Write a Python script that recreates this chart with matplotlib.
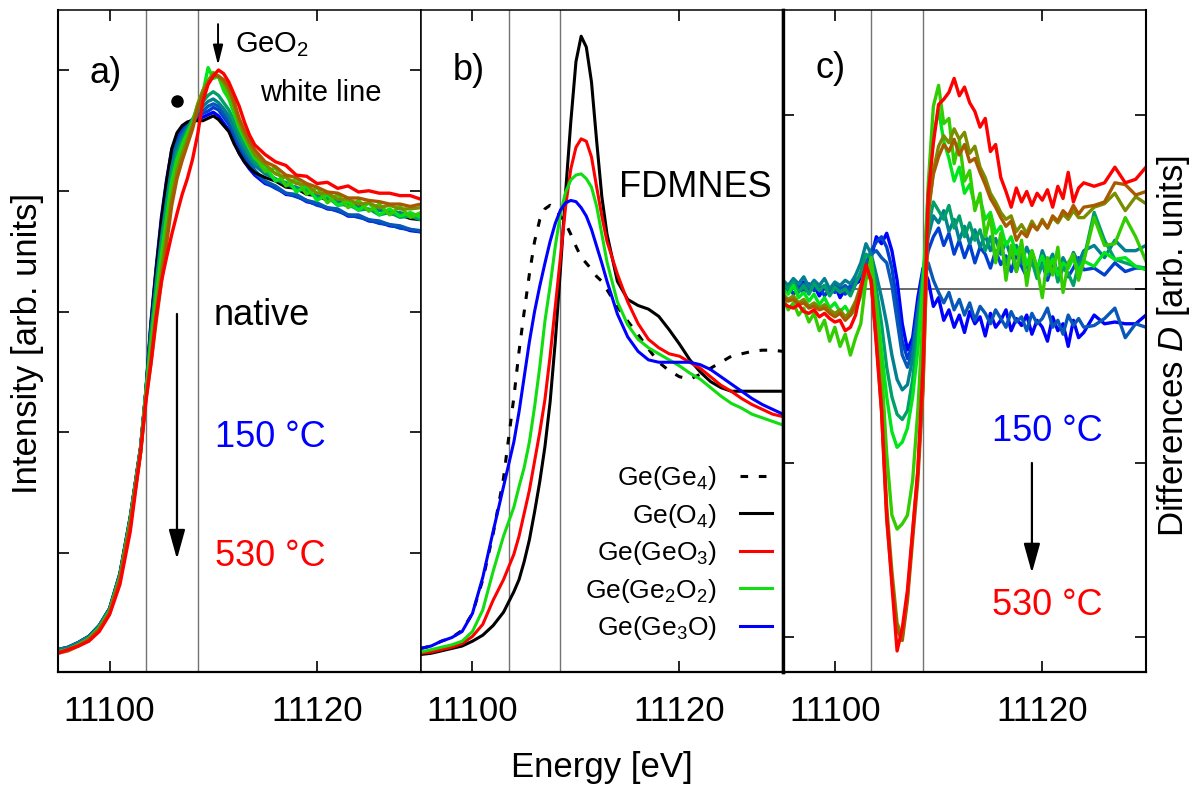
import numpy as np
import matplotlib
matplotlib.use("Agg")
import matplotlib.pyplot as plt
from matplotlib.ticker import MultipleLocator

plt.rcParams['font.family'] = ['Liberation Sans', 'DejaVu Sans']
plt.rcParams['mathtext.fontset'] = 'custom'
plt.rcParams['mathtext.rm'] = 'Liberation Sans'
plt.rcParams['mathtext.it'] = 'Liberation Sans:italic'
plt.rcParams['mathtext.bf'] = 'Liberation Sans:bold'

# ---------------- data ----------------
# a) measured XANES, energy grid (eV)
energy_a = np.concatenate([np.arange(11095, 11104, 1.0),
                           np.arange(11103.5, 11114.01, 0.5),
                           np.arange(11115, 11131, 1.0)])

native_a = [0.20, 0.22, 0.26, 0.31, 0.40, 0.54, 0.83, 1.30, 1.88,
            2.34, 2.90, 3.35, 3.76, 4.08, 4.35, 4.48, 4.54, 4.57, 4.58, 4.58,
            4.58, 4.60, 4.62, 4.59, 4.54, 4.49, 4.39, 4.31, 4.24, 4.19, 4.15,
            4.11, 4.08, 4.03, 4.02, 3.97, 3.96, 3.92, 3.92, 3.87, 3.88, 3.84,
            3.84, 3.81, 3.80, 3.77, 3.76]

# annealing series 150 -> 530 C
spectra_a = [
    [0.20, 0.22, 0.26, 0.31, 0.40, 0.54, 0.83, 1.30, 1.88,
     2.34, 2.92, 3.37, 3.78, 4.09, 4.34, 4.46, 4.52, 4.56, 4.59, 4.60,
     4.61, 4.63, 4.65, 4.62, 4.56, 4.50, 4.41, 4.31, 4.24, 4.18, 4.13,
     4.06, 4.03, 3.97, 3.96, 3.91, 3.89, 3.85, 3.84, 3.79, 3.79, 3.75,
     3.74, 3.71, 3.70, 3.67, 3.66],
    [0.19, 0.21, 0.25, 0.30, 0.39, 0.53, 0.82, 1.29, 1.87,
     2.33, 2.90, 3.34, 3.73, 4.04, 4.30, 4.43, 4.50, 4.54, 4.59, 4.62,
     4.64, 4.66, 4.69, 4.67, 4.61, 4.55, 4.45, 4.35, 4.28, 4.21, 4.15,
     4.07, 4.02, 3.98, 3.95, 3.92, 3.88, 3.86, 3.83, 3.80, 3.78, 3.76,
     3.73, 3.72, 3.69, 3.68, 3.66],
    [0.19, 0.21, 0.25, 0.30, 0.39, 0.52, 0.81, 1.28, 1.87,
     2.33, 2.87, 3.30, 3.68, 3.99, 4.26, 4.39, 4.47, 4.53, 4.58, 4.63,
     4.66, 4.70, 4.72, 4.70, 4.64, 4.58, 4.49, 4.39, 4.31, 4.24, 4.17,
     4.08, 4.04, 3.98, 3.97, 3.92, 3.90, 3.86, 3.85, 3.80, 3.80, 3.76,
     3.75, 3.72, 3.71, 3.68, 3.67],
    [0.20, 0.22, 0.26, 0.31, 0.40, 0.54, 0.83, 1.30, 1.88,
     2.34, 2.84, 3.25, 3.61, 3.92, 4.20, 4.35, 4.45, 4.52, 4.59, 4.66,
     4.70, 4.74, 4.76, 4.73, 4.68, 4.62, 4.52, 4.42, 4.34, 4.27, 4.21,
     4.14, 4.10, 4.05, 4.03, 3.99, 3.96, 3.93, 3.91, 3.87, 3.87, 3.84,
     3.84, 3.82, 3.82, 3.79, 3.80],
    [0.18, 0.20, 0.24, 0.29, 0.38, 0.52, 0.80, 1.27, 1.86,
     2.32, 2.80, 3.20, 3.56, 3.86, 4.14, 4.31, 4.41, 4.50, 4.59, 4.68,
     4.74, 4.79, 4.82, 4.79, 4.73, 4.67, 4.58, 4.47, 4.38, 4.30, 4.24,
     4.17, 4.09, 4.07, 4.01, 4.01, 3.94, 3.95, 3.88, 3.89, 3.84, 3.85,
     3.80, 3.82, 3.78, 3.79, 3.76],
    [0.18, 0.20, 0.24, 0.29, 0.38, 0.52, 0.80, 1.27, 1.86,
     2.32, 2.74, 3.12, 3.47, 3.78, 4.08, 4.26, 4.38, 4.48, 4.57, 4.71,
     4.81, 5.02, 4.93, 4.95, 4.83, 4.76, 4.64, 4.52, 4.43, 4.35, 4.27,
     4.21, 4.08, 4.12, 3.99, 4.04, 3.92, 3.97, 3.88, 3.91, 3.84, 3.90,
     3.80, 3.85, 3.79, 3.82, 3.78],
    [0.18, 0.20, 0.24, 0.29, 0.38, 0.51, 0.79, 1.26, 1.85,
     2.31, 2.71, 3.09, 3.42, 3.73, 4.03, 4.23, 4.35, 4.46, 4.57, 4.72,
     4.83, 4.91, 4.98, 4.94, 4.87, 4.78, 4.67, 4.53, 4.45, 4.36, 4.29,
     4.16, 4.19, 4.04, 4.10, 3.97, 4.03, 3.90, 3.97, 3.86, 3.92, 3.83,
     3.89, 3.80, 3.87, 3.78, 3.82],
    [0.18, 0.20, 0.24, 0.29, 0.37, 0.51, 0.79, 1.25, 1.84,
     2.29, 2.63, 3.00, 3.33, 3.64, 3.94, 4.16, 4.30, 4.42, 4.54, 4.71,
     4.83, 4.91, 4.97, 4.95, 4.90, 4.83, 4.71, 4.57, 4.47, 4.38, 4.30,
     4.22, 4.14, 4.11, 4.06, 4.05, 3.98, 3.98, 3.93, 3.93, 3.89, 3.90,
     3.86, 3.88, 3.85, 3.85, 3.86],
    [0.17, 0.19, 0.23, 0.28, 0.37, 0.50, 0.78, 1.24, 1.83,
     2.27, 2.57, 2.92, 3.24, 3.56, 3.88, 4.10, 4.25, 4.38, 4.51, 4.68,
     4.80, 4.89, 4.95, 4.95, 4.92, 4.86, 4.74, 4.60, 4.50, 4.41, 4.34,
     4.24, 4.20, 4.13, 4.11, 4.06, 4.03, 3.99, 3.98, 3.94, 3.94, 3.92,
     3.91, 3.89, 3.89, 3.87, 3.89],
    [0.17, 0.20, 0.23, 0.27, 0.35, 0.49, 0.74, 1.18, 1.84,
     2.25, 2.58, 2.96, 3.25, 3.45, 3.64, 3.81, 3.97, 4.10, 4.26, 4.47,
     4.74, 4.88, 4.95, 5.00, 4.97, 4.90, 4.80, 4.70, 4.57, 4.46, 4.38,
     4.30, 4.24, 4.21, 4.13, 4.12, 4.06, 4.07, 4.02, 4.04, 3.99, 4.00,
     3.98, 3.98, 3.96, 3.96, 3.93],
]
series_colors = ['#0000ff', '#0040d0', '#0858b8', '#008090', '#00a068',
                 '#00e61a', '#33cc00', '#7a8c00', '#a85a00', '#ff0000']

# b) FDMNES simulations
energy_b = [11095, 11096, 11097, 11098, 11099, 11100, 11101, 11102, 11103, 11104,
            11104.5, 11105, 11105.5, 11106, 11106.5, 11107, 11107.5, 11108, 11108.5,
            11109, 11109.5, 11110, 11110.5, 11111, 11111.5, 11112, 11112.5, 11113,
            11114, 11115, 11116, 11117, 11118, 11119, 11120, 11121, 11122, 11123,
            11124, 11125, 11126, 11127, 11128, 11129, 11130]
sim_ge4 = [0.21, 0.23, 0.27, 0.30, 0.36, 0.50, 0.78, 1.16, 1.62, 2.29,
           2.67, 3.00, 3.31, 3.58, 3.76, 3.85, 3.88, 3.85, 3.79, 3.73, 3.64, 3.54,
           3.45, 3.40, 3.35, 3.29, 3.25, 3.18,
           3.04, 2.92, 2.81, 2.69, 2.58, 2.51, 2.46, 2.44, 2.48, 2.53, 2.58, 2.63,
           2.65, 2.67, 2.68, 2.68, 2.67]
sim_o4 = [0.16, 0.17, 0.19, 0.21, 0.23, 0.27, 0.32, 0.40, 0.51, 0.68,
          0.78, 0.93, 1.11, 1.34, 1.59, 1.88, 2.25, 2.75, 3.35, 3.99, 4.57, 5.07,
          5.28, 5.19, 4.90, 4.41, 3.95, 3.64,
          3.25, 3.10, 3.05, 3.02, 2.96, 2.85, 2.73, 2.60, 2.50, 2.42, 2.37, 2.34,
          2.34, 2.34, 2.34, 2.34, 2.34]
sim_geo3 = [0.17, 0.18, 0.20, 0.22, 0.25, 0.31, 0.41, 0.61, 0.78, 0.99,
            1.14, 1.33, 1.52, 1.76, 2.00, 2.27, 2.63, 3.04, 3.45, 3.87, 4.18, 4.36,
            4.43, 4.41, 4.28, 4.03, 3.79, 3.58,
            3.31, 3.08, 2.90, 2.77, 2.70, 2.65, 2.63, 2.58, 2.53, 2.46, 2.39, 2.34,
            2.28, 2.23, 2.19, 2.15, 2.13]
sim_ge2o2 = [0.18, 0.20, 0.22, 0.24, 0.27, 0.35, 0.53, 0.85, 1.14, 1.38,
             1.55, 1.71, 1.92, 2.21, 2.54, 2.92, 3.21, 3.54, 3.81, 3.99, 4.09, 4.13,
             4.14, 4.10, 4.03, 3.87, 3.64, 3.41,
             3.08, 2.89, 2.77, 2.70, 2.65, 2.60, 2.55, 2.49, 2.44, 2.37, 2.30, 2.24,
             2.20, 2.15, 2.12, 2.09, 2.06]
sim_ge3o = [0.21, 0.23, 0.27, 0.30, 0.35, 0.50, 0.80, 1.18, 1.55, 1.92,
            2.17, 2.46, 2.75, 3.00, 3.21, 3.40, 3.58, 3.73, 3.84, 3.90, 3.92, 3.91,
            3.86, 3.79, 3.68, 3.54, 3.40, 3.25,
            2.98, 2.79, 2.67, 2.60, 2.58, 2.58, 2.58, 2.58, 2.56, 2.52, 2.46, 2.40,
            2.34, 2.28, 2.23, 2.19, 2.15]
sim_labels = [r'Ge(Ge$_4$)', r'Ge(O$_4$)', r'Ge(GeO$_3$)', r'Ge(Ge$_2$O$_2$)', r'Ge(Ge$_3$O)']

# c) differences D
energy_c = np.concatenate([np.arange(11095, 11124.01, 0.5), np.arange(11125, 11131, 1.0)])
diff_c = [
    [0.02, -0.01, 0.03, 0.00, 0.04, -0.02, 0.02, -0.04, 0.01, -0.03,
     0.02, -0.05, 0.00, -0.03, 0.03, 0.05, 0.10, 0.18, 0.30, 0.26,
     0.32, 0.22, 0.05, -0.20, -0.35, -0.28, -0.05, 0.12, 0.05, -0.10,
     -0.05, -0.18, -0.12, -0.22, -0.15, -0.25, -0.13, -0.20, -0.16, -0.27,
     -0.14, -0.22, -0.18, -0.12, -0.24, -0.17, -0.21, -0.15, -0.26, -0.18,
     -0.22, -0.30, -0.16, -0.24, -0.20, -0.33, -0.18, -0.28, -0.25,
     -0.15, -0.20, -0.19, -0.20, -0.20, -0.15],
    [-0.01, 0.02, -0.03, 0.01, -0.02, 0.03, -0.01, 0.02, -0.04, 0.00,
     -0.02, 0.01, -0.03, 0.02, 0.04, 0.08, 0.14, 0.22, 0.27, 0.30,
     0.24, 0.12, -0.08, -0.30, -0.40, -0.32, -0.10, 0.05, 0.22, 0.30,
     0.35, 0.25, 0.32, 0.20, 0.28, 0.18, 0.26, 0.15, 0.24, 0.20,
     0.12, 0.22, 0.14, 0.19, 0.10, 0.20, 0.13, 0.07, 0.17, 0.10,
     0.15, 0.05, 0.14, 0.09, 0.16, 0.07, 0.12, 0.18, 0.11,
     0.12, 0.08, 0.15, 0.10, 0.12, 0.12],
    [0.03, 0.00, 0.04, 0.01, 0.03, -0.01, 0.04, 0.00, 0.02, -0.02,
     0.03, 0.00, 0.02, -0.01, 0.05, 0.08, 0.15, 0.20, 0.22, 0.18,
     0.15, 0.02, -0.18, -0.38, -0.45, -0.35, -0.15, 0.02, 0.15, 0.05,
     -0.02, -0.08, -0.02, -0.12, -0.06, -0.15, -0.08, -0.18, -0.10, -0.14,
     -0.20, -0.12, -0.17, -0.22, -0.13, -0.19, -0.16, -0.24, -0.14, -0.20,
     -0.17, -0.11, -0.22, -0.18, -0.26, -0.15, -0.21, -0.17, -0.22,
     -0.21, -0.17, -0.11, -0.28, -0.20, -0.22],
    [0.05, 0.02, 0.06, 0.03, 0.07, 0.01, 0.05, 0.02, 0.06, 0.00,
     0.04, 0.02, 0.05, 0.03, 0.08, 0.15, 0.26, 0.20, 0.08, -0.05,
     -0.20, -0.38, -0.52, -0.58, -0.55, -0.40, -0.15, 0.10, 0.30, 0.42,
     0.38, 0.45, 0.33, 0.40, 0.28, 0.36, 0.26, 0.34, 0.24, 0.31,
     0.22, 0.29, 0.20, 0.27, 0.18, 0.25, 0.15, 0.24, 0.17, 0.10,
     0.22, 0.14, 0.20, 0.08, 0.18, 0.12, 0.21, 0.15, 0.22,
     0.25, 0.18, 0.28, 0.22, 0.22, 0.25],
    [0.03, 0.00, 0.04, -0.02, 0.02, -0.03, 0.03, -0.01, 0.02, -0.04,
     0.01, -0.02, 0.00, -0.04, 0.03, 0.10, 0.20, 0.18, 0.00, -0.20,
     -0.45, -0.62, -0.72, -0.75, -0.70, -0.52, -0.25, 0.05, 0.35, 0.50,
     0.45, 0.40, 0.48, 0.35, 0.42, 0.30, 0.38, 0.28, 0.34, 0.22,
     0.30, 0.18, 0.26, 0.14, 0.22, 0.10, 0.20, 0.12, 0.16, 0.06,
     0.14, 0.08, 0.18, 0.04, 0.12, 0.09, 0.02, 0.14, 0.17,
     0.44, 0.28, 0.17, 0.15, 0.13, 0.12],
    [0.00, -0.03, 0.02, -0.05, -0.02, -0.07, -0.03, -0.09, -0.05, -0.11,
     -0.08, -0.13, -0.10, -0.15, -0.12, -0.04, 0.10, 0.12, -0.08, -0.35,
     -0.62, -0.82, -0.91, -0.88, -0.80, -0.62, -0.35, 0.05, 0.55, 0.88,
     1.03, 0.85, 0.75, 0.62, 0.70, 0.55, 0.60, 0.48, 0.52, 0.40,
     0.44, 0.32, 0.36, 0.25, 0.30, 0.20, 0.26, 0.14, 0.22, 0.12,
     0.19, 0.10, 0.17, 0.08, 0.15, 0.12, 0.18, 0.10, 0.16,
     0.13, 0.21, 0.17, 0.18, 0.13, 0.11],
    [-0.05, -0.12, -0.08, -0.15, -0.11, -0.19, -0.14, -0.24, -0.18, -0.30,
     -0.22, -0.33, -0.26, -0.38, -0.28, -0.20, 0.05, 0.18, -0.10, -0.45,
     -0.95, -1.30, -1.38, -1.35, -1.30, -1.10, -0.70, -0.15, 0.60, 1.05,
     1.17, 0.95, 0.98, 0.72, 0.85, 0.62, 0.68, 0.45, 0.55, 0.30,
     0.42, 0.15, 0.32, 0.05, 0.25, 0.10, 0.28, 0.02, 0.22, 0.12,
     -0.05, 0.18, 0.08, 0.24, -0.02, 0.15, 0.20, 0.05, 0.16,
     0.41, 0.25, 0.26, 0.41, 0.30, 0.16],
    [-0.03, -0.06, -0.04, -0.08, -0.06, -0.10, -0.08, -0.11, -0.09, -0.12,
     -0.14, -0.12, -0.16, -0.13, -0.07, 0.02, 0.12, 0.04, -0.28, -0.65,
     -1.25, -1.62, -1.92, -2.00, -1.76, -1.40, -1.05, -0.55, 0.42, 0.68,
     0.82, 0.88, 0.84, 0.92, 0.86, 0.90, 0.78, 0.82, 0.70, 0.64,
     0.55, 0.50, 0.44, 0.40, 0.42, 0.33, 0.37, 0.32, 0.39, 0.34,
     0.40, 0.35, 0.41, 0.38, 0.43, 0.40, 0.45, 0.41, 0.41,
     0.47, 0.49, 0.55, 0.45, 0.53, 0.49],
    [-0.05, -0.07, -0.06, -0.09, -0.08, -0.11, -0.10, -0.12, -0.11, -0.14,
     -0.16, -0.14, -0.18, -0.15, -0.09, 0.01, 0.12, 0.05, -0.30, -0.70,
     -1.33, -1.67, -1.96, -2.02, -1.79, -1.44, -1.10, -0.58, 0.45, 0.66,
     0.76, 0.83, 0.79, 0.86, 0.77, 0.83, 0.73, 0.75, 0.67, 0.60,
     0.52, 0.47, 0.41, 0.36, 0.39, 0.28, 0.33, 0.30, 0.37, 0.34,
     0.39, 0.35, 0.42, 0.39, 0.45, 0.42, 0.48, 0.43, 0.47,
     0.48, 0.50, 0.61, 0.60, 0.54, 0.56],
    [-0.08, -0.10, -0.11, -0.09, -0.13, -0.14, -0.12, -0.16, -0.14, -0.17,
     -0.19, -0.18, -0.24, -0.22, -0.15, -0.01, 0.14, 0.05, -0.32, -0.70,
     -1.30, -1.70, -2.08, -1.95, -1.73, -1.39, -1.04, -0.44, 0.54, 0.84,
     1.06, 1.09, 1.13, 1.21, 1.11, 1.16, 1.07, 1.02, 0.93, 0.98,
     0.79, 0.83, 0.64, 0.56, 0.47, 0.58, 0.50, 0.56, 0.48, 0.55,
     0.51, 0.57, 0.47, 0.59, 0.52, 0.67, 0.50, 0.58, 0.61,
     0.59, 0.61, 0.70, 0.61, 0.63, 0.70],
]

edge_lines = [11103.5, 11108.5]

# ---------------- figure ----------------
W, H = 1203.0, 787.0
fig = plt.figure(figsize=(W / 100, H / 100), dpi=100)


def axes_rect(x0, x1, y0=10.0, y1=672.0):
    # pixel box -> figure fraction
    return [x0 / W, 1 - y1 / H, (x1 - x0) / W, (y1 - y0) / H]


ax_a = fig.add_axes(axes_rect(57.7, 420.7))
ax_b = fig.add_axes(axes_rect(420.7, 783.0))
ax_c = fig.add_axes(axes_rect(783.0, 1146.0))

for ax in (ax_a, ax_b, ax_c):
    ax.set_xlim(11095, 11130)
    ax.xaxis.set_major_locator(MultipleLocator(20))
    ax.ticklabel_format(axis='x', useOffset=False, style='plain')
    ax.tick_params(axis='x', direction='in', top=True, bottom=True,
                   length=8, width=1.2, labelsize=25, pad=16.5)
    ax.tick_params(axis='y', direction='in', left=True, right=True,
                   length=8, width=1.2, labelleft=False)
    for s in ax.spines.values():
        s.set_linewidth(1.1)
    ax.spines['bottom'].set_linewidth(1.6)
    for e in edge_lines:
        ax.axvline(e, color='0.45', lw=1.0, zorder=1)

for ax in (ax_a, ax_b):
    ax.set_ylim(0.015, 5.497)
    ax.yaxis.set_major_locator(MultipleLocator(1))
ax_b.tick_params(axis='y', left=False, right=False)
ax_a.spines['left'].set_linewidth(1.5)
ax_b.spines['right'].set_linewidth(2.4)
ax_c.spines['left'].set_linewidth(2.4)
ax_c.spines['right'].set_linewidth(1.5)

# a) experimental spectra; native drawn above the blue ones
for i, (spec, col) in enumerate(zip(spectra_a, series_colors)):
    ax_a.plot(energy_a, spec, color=col, lw=2.4, zorder=2)
    if i == 2:
        ax_a.plot(energy_a, native_a, color='k', lw=2.2, zorder=2)

ax_a.text(11098.1, 4.89, 'a)', fontsize=26)
ax_a.text(11112.1, 5.15, r'GeO$_2$', fontsize=21)
ax_a.text(11114.5, 4.74, 'white line', fontsize=21)
ax_a.text(11110.0, 2.89, 'native', fontsize=26)
ax_a.text(11110.2, 1.88, '150 °C', fontsize=26, color='#0000ff')
ax_a.text(11110.2, 0.89, '530 °C', fontsize=26, color='#ff0000')
ax_a.plot([11106.5], [4.74], 'o', color='k', ms=8, zorder=3)
ax_a.annotate('', xy=(11106.5, 0.95), xytext=(11106.5, 2.98),
              arrowprops=dict(arrowstyle='-|>,head_length=0.9,head_width=0.25',
                              color='k', lw=1.6, shrinkA=0, shrinkB=0,
                              mutation_scale=20))
ax_a.annotate('', xy=(11110.46, 5.04), xytext=(11110.46, 5.38),
              arrowprops=dict(arrowstyle='-|>,head_length=0.6,head_width=0.15',
                              color='k', lw=1.4, shrinkA=0, shrinkB=0,
                              mutation_scale=20))

# b) simulations
ax_b.plot(energy_b, sim_ge4, color='k', lw=2.2, ls=(0, (2.5, 3.5)), label=sim_labels[0])
ax_b.plot(energy_b, sim_o4, color='k', lw=2.2, label=sim_labels[1])
ax_b.plot(energy_b, sim_geo3, color='#ff0000', lw=2.2, label=sim_labels[2])
ax_b.plot(energy_b, sim_ge2o2, color='#11dd11', lw=2.2, label=sim_labels[3])
ax_b.plot(energy_b, sim_ge3o, color='#0000ff', lw=2.2, label=sim_labels[4])
ax_b.text(11098.1, 4.92, 'b)', fontsize=26)
ax_b.text(11114.2, 3.95, 'FDMNES', fontsize=26)
ax_b.legend(loc='lower right', bbox_to_anchor=(0.97, 0.045), frameon=False,
            markerfirst=False, fontsize=19, handlelength=1.2, handletextpad=0.9,
            labelspacing=0.36, borderpad=0, borderaxespad=0)

# c) differences
ax_c.set_ylim(-2.201, 1.603)
ax_c.yaxis.set_major_locator(MultipleLocator(1))
ax_c.axhline(0, color='0.25', lw=1.1, zorder=1.5)
for d, col in zip(diff_c, series_colors):
    ax_c.plot(energy_c, d, color=col, lw=2.4, zorder=2)
ax_c.text(11098.1, 1.21, 'c)', fontsize=26)
ax_c.text(11115.15, -0.874, '150 °C', fontsize=26, color='#0000ff')
ax_c.text(11115.15, -1.874, '530 °C', fontsize=26, color='#ff0000')
ax_c.annotate('', xy=(11119.0, -1.632), xytext=(11119.0, -1.0),
              arrowprops=dict(arrowstyle='-|>,head_length=0.9,head_width=0.25',
                              color='k', lw=1.6, shrinkA=0, shrinkB=0,
                              mutation_scale=20))

# axis labels
fig.text(28 / W, 1 - 343.5 / H, 'Intensity [arb. units]', rotation=90,
         ha='center', va='center', fontsize=25)
fig.text(1174 / W, 1 - 346 / H, r'Differences $D$ [arb. units]', rotation=90,
         ha='center', va='center', fontsize=25)
fig.text(602 / W, 1 - 777 / H, 'Energy [eV]', ha='center', va='baseline', fontsize=25)

fig.savefig('out.png', dpi=100)
